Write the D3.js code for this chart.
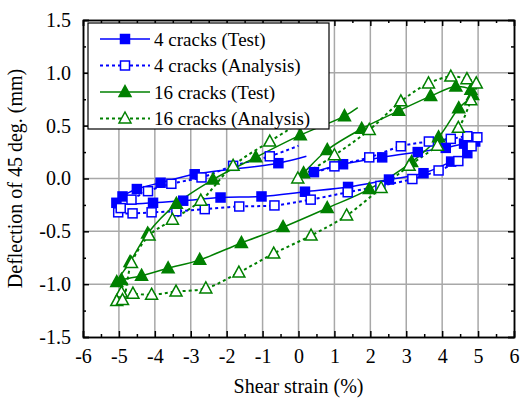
<!DOCTYPE html>
<html lang="en">

<head>
    <meta charset="UTF-8">
    <title>Deflection vs shear strain</title>
    <script src="https://d3js.org/d3.v7.min.js"></script>
    <style>
        body {
            margin: 0;
            background: #fff;
        }

        .grid line {
            stroke: #a8a8a8;
            stroke-width: 1.5px;
        }

        .axis path,
        .axis line {
            stroke: #000;
            stroke-width: 1.5px;
        }
    </style>
</head>

<body>
    <script>

        const serif = "Liberation Serif";

        // tick values and labels
        const xTicks = [-6, -5, -4, -3, -2, -1, 0, 1, 2, 3, 4, 5, 6];
        const xTickLabels = ["-6", "-5", "-4", "-3", "-2", "-1", "0", "1", "2", "3", "4", "5", "6"];
        const yTicks = [-1.5, -1.0, -0.5, 0.0, 0.5, 1.0, 1.5];
        const yTickLabels = ["-1.5", "-1.0", "-0.5", "0.0", "0.5", "1.0", "1.5"];

        // 4 cracks (Test)  [shear strain %, deflection mm]
        const test4 = [
            [-0.1, -0.02], [0.43, 0.06], [1.24, 0.135], [2.33, 0.2], [3.32, 0.25], [4.1, 0.29],
            [4.61, 0.33], [4.92, 0.35], [4.78, 0.32], [4.7, 0.24], [4.25, 0.16], [3.48, 0.05],
            [2.52, -0.01], [1.38, -0.08], [0.18, -0.125], [-1.03, -0.17], [-2.17, -0.18],
            [-3.21, -0.21], [-4.05, -0.23], [-5.07, -0.23], [-4.9, -0.17], [-4.5, -0.1],
            [-3.84, -0.04], [-2.89, 0.04], [-0.56, 0.145], [0.22, 0.21]
        ];

        // 4 cracks (Analysis)
        const anal4 = [
            [0.0, 0.0], [1.0, 0.115], [1.97, 0.2], [2.85, 0.305], [3.63, 0.35], [4.24, 0.375],
            [4.7, 0.4], [4.98, 0.39], [4.82, 0.305], [4.45, 0.165], [3.9, 0.076], [3.17, -0.005],
            [2.28, -0.07], [1.37, -0.13], [0.34, -0.2], [-0.67, -0.255], [-1.65, -0.265],
            [-2.61, -0.29], [-3.4, -0.31], [-4.09, -0.32], [-4.62, -0.33], [-5.02, -0.32],
            [-4.95, -0.28], [-4.65, -0.2], [-4.19, -0.12], [-3.54, -0.05], [-2.7, 0.01],
            [-1.82, 0.12], [-0.8, 0.21], [0.0, 0.31]
        ];

        // 16 cracks (Test)
        const test16 = [
            [-0.05, -0.02], [0.14, 0.05], [0.8, 0.27], [1.76, 0.47], [2.79, 0.64], [3.68, 0.78],
            [4.38, 0.87], [4.8, 0.84], [4.85, 0.79], [4.46, 0.665], [3.9, 0.39], [3.15, 0.155],
            [1.97, -0.1], [0.8, -0.28], [-0.43, -0.46], [-1.59, -0.61], [-2.75, -0.77],
            [-3.63, -0.85], [-4.37, -0.92], [-4.93, -0.96], [-5.06, -0.98], [-4.69, -0.79],
            [-4.2, -0.52], [-3.4, -0.24], [-2.38, -0.01], [-1.19, 0.2], [0.05, 0.41],
            [1.28, 0.59], [1.65, 0.67]
        ];

        // 16 cracks (Analysis)
        const anal16 = [
            [-0.02, 0.0], [1.0, 0.22], [1.97, 0.46], [2.85, 0.73], [3.62, 0.9], [4.24, 0.965],
            [4.69, 0.94], [4.95, 0.9], [4.8, 0.74], [4.45, 0.48], [3.87, 0.31], [3.08, 0.12],
            [2.3, -0.09], [1.34, -0.35], [0.35, -0.54], [-0.69, -0.71], [-1.66, -0.89],
            [-2.58, -1.04], [-3.41, -1.07], [-4.09, -1.1], [-4.61, -1.09], [-4.93, -1.08],
            [-5.06, -1.16], [-4.9, -1.15], [-4.65, -0.8], [-4.16, -0.54], [-3.51, -0.39],
            [-2.72, -0.21], [-1.82, 0.12], [-0.8, 0.35], [0.0, 0.52]
        ];

        const series = [
            { name: "4 cracks (Test)", data: test4, color: "#0000ff", dash: null, shape: "square", filled: true, markStart: false },
            { name: "4 cracks (Analysis)", data: anal4, color: "#0000ff", dash: "3,3", shape: "square", filled: false, markStart: false },
            { name: "16 cracks (Test)", data: test16, color: "#008000", dash: null, shape: "triangle", filled: true, markStart: false },
            { name: "16 cracks (Analysis)", data: anal16, color: "#008000", dash: "3,3", shape: "triangle", filled: false, markStart: true }
        ];

        const W = 522, H = 401;
        const margin = { top: 20, right: 8, bottom: 64, left: 83 },
            width = W - margin.left - margin.right,
            height = H - margin.top - margin.bottom;

        const svg = d3.select("body").append("svg")
            .attr("width", W)
            .attr("height", H)
            .attr("font-family", serif);

        const g = svg.append("g")
            .attr("transform", "translate(" + margin.left + "," + margin.top + ")");

        const x = d3.scaleLinear().domain([-6, 6]).range([0, width]);
        const y = d3.scaleLinear().domain([-1.5, 1.5]).range([height, 0]);

        // grid
        const grid = g.append("g").attr("class", "grid");
        grid.selectAll(".gx")
            .data(xTicks.slice(1, -1))
            .enter().append("line")
            .attr("x1", d => x(d)).attr("x2", d => x(d))
            .attr("y1", 0).attr("y2", height);
        grid.selectAll(".gy")
            .data(yTicks.slice(1, -1))
            .enter().append("line")
            .attr("y1", d => y(d)).attr("y2", d => y(d))
            .attr("x1", 0).attr("x2", width);

        // minor ticks
        const xMinor = d3.range(-5.5, 6, 1);
        const yMinor = d3.range(-1.25, 1.5, 0.5);

        function addAxis(axis, transform, labels) {
            const a = g.append("g").attr("class", "axis").attr("transform", transform);
            a.call(axis);
            a.attr("font-family", serif).attr("font-size", 20);
            if (!labels) a.selectAll("text").remove();
            else a.selectAll("text").attr("font-family", serif).attr("font-size", 20).attr("fill", "#000");
            return a;
        }

        addAxis(d3.axisBottom(x).tickValues(xTicks).tickSize(-6).tickPadding(12)
            .tickFormat((d, i) => xTickLabels[i]), "translate(0," + height + ")", true);
        addAxis(d3.axisBottom(x).tickValues(xMinor).tickSize(-3).tickSizeOuter(0),
            "translate(0," + height + ")", false);

        addAxis(d3.axisTop(x).tickValues(xTicks).tickSize(-6), "translate(0,0)", false);
        addAxis(d3.axisTop(x).tickValues(xMinor).tickSize(-3).tickSizeOuter(0), "translate(0,0)", false);

        addAxis(d3.axisLeft(y).tickValues(yTicks).tickSize(-6).tickPadding(12)
            .tickFormat((d, i) => yTickLabels[i]), "translate(0,0)", true);
        addAxis(d3.axisLeft(y).tickValues(yMinor).tickSize(-3).tickSizeOuter(0), "translate(0,0)", false);

        addAxis(d3.axisRight(y).tickValues(yTicks).tickSize(-6), "translate(" + width + ",0)", false);
        addAxis(d3.axisRight(y).tickValues(yMinor).tickSize(-3).tickSizeOuter(0), "translate(" + width + ",0)", false);

        // axis titles
        g.append("text")
            .attr("x", width / 2)
            .attr("y", height + 56)
            .attr("text-anchor", "middle")
            .attr("font-family", serif)
            .attr("font-size", 20)
            .text("Shear strain (%)");

        g.append("text")
            .attr("transform", "translate(" + (-61) + "," + (height / 2) + ") rotate(-90)")
            .attr("text-anchor", "middle")
            .attr("font-family", serif)
            .attr("font-size", 20)
            .text("Deflection of 45 deg. (mm)");

        // lines
        const line = d3.line()
            .x(d => x(d[0]))
            .y(d => y(d[1]))
            .curve(d3.curveCatmullRom.alpha(0.5));

        function drawMarker(sel, s, cx, cy) {
            if (s.shape === "square") {
                sel.append("rect")
                    .attr("x", cx - 4.5).attr("y", cy - 4.5)
                    .attr("width", 9).attr("height", 9)
                    .attr("fill", s.filled ? s.color : "#fff")
                    .attr("stroke", s.color)
                    .attr("stroke-width", 1.5);
            } else {
                sel.append("path")
                    .attr("d", "M" + cx + "," + (cy - 6.5) + "L" + (cx + 6) + "," + (cy + 4.5) + "L" + (cx - 6) + "," + (cy + 4.5) + "Z")
                    .attr("fill", s.filled ? s.color : "#fff")
                    .attr("stroke", s.color)
                    .attr("stroke-width", 1.5);
            }
        }

        series.forEach(s => {
            g.append("path")
                .datum(s.data)
                .attr("fill", "none")
                .attr("stroke", s.color)
                .attr("stroke-width", s.dash ? 2 : 1.5)
                .attr("stroke-dasharray", s.dash)
                .attr("d", line);
        });

        series.forEach(s => {
            const mg = g.append("g");
            s.data.forEach((d, i) => {
                if (i === 0 && !s.markStart) return;
                if (i === s.data.length - 1) return;
                drawMarker(mg, s, x(d[0]), y(d[1]));
            });
        });

        // legend
        const legend = svg.append("g").attr("transform", "translate(88,23)");
        legend.append("rect")
            .attr("width", 241).attr("height", 106)
            .attr("fill", "#fff")
            .attr("stroke", "#000")
            .attr("stroke-width", 1.2);

        series.forEach((s, i) => {
            const ly = 16 + i * 26.5;
            legend.append("line")
                .attr("x1", 12).attr("x2", 62)
                .attr("y1", ly).attr("y2", ly)
                .attr("stroke", s.color)
                .attr("stroke-width", s.dash ? 2 : 1.5)
                .attr("stroke-dasharray", s.dash);
            drawMarker(legend, s, 37, ly);
            legend.append("text")
                .attr("x", 66).attr("y", ly + 6.5)
                .attr("font-family", serif)
                .attr("font-size", 19)
                .text(s.name);
        });

    </script>

</body>

</html>
